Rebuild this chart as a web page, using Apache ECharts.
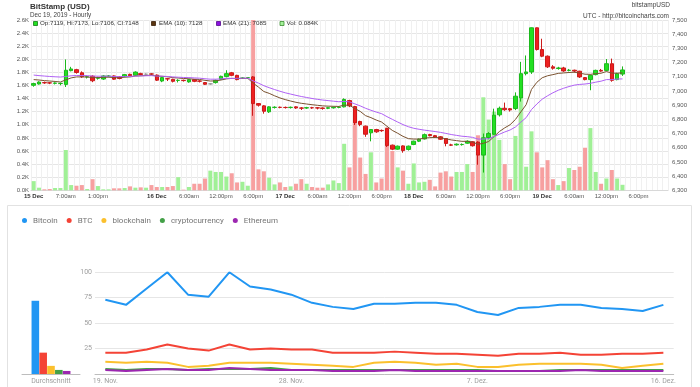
<!DOCTYPE html>
<html><head><meta charset="utf-8">
<script src="https://cdn.jsdelivr.net/npm/echarts@6/dist/echarts.min.js"></script>
<style>html,body{margin:0;padding:0;background:#fff}#c{width:700px;height:387px}</style>
</head><body><div id="c"></div>
<script>
// ---------- BitStamp hourly candles (15 Dec 01:00 .. 19 Dec 15:00) ----------
const opens  = [7040,7049,7059,7057,7054,7052,7046,7143,7150,7128,7098,7104,7090,7084,7104,7106,7099,7101,7117,7110,7122,7118,7120,7112,7070,7086,7082,7074,7075,7064,7080,7070,7059,7050,7059,7082,7101,7128,7110,7090,7092,7099,6911,6895,6853,6884,6885,6884,6883,6888,6880,6880,6882,6881,6880,6878,6881,6884,6888,6932,6890,6785,6752,6705,6728,6722,6735,6618,6590,6613,6588,6623,6646,6662,6693,6685,6677,6665,6620,6620,6622,6632,6642,6640,6548,6672,6695,6832,6878,6875,6876,6950,7122,7134,7445,7292,7245,7170,7158,7162,7145,7146,7139,7094,7080,7115,7145,7145,7192,7080,7119];
const closes = [7052,7063,7057,7056,7056,7054,7146,7155,7130,7100,7100,7072,7092,7106,7105,7083,7088,7115,7107,7133,7116,7118,7119,7076,7094,7085,7068,7075,7073,7080,7068,7069,7047,7050,7075,7103,7122,7110,7080,7091,7093,6911,6900,6857,6888,6885,6884,6883,6885,6880,6879,6882,6881,6880,6877,6882,6885,6886,6940,6895,6775,6764,6695,6728,6712,6720,6615,6590,6611,6580,6611,6646,6660,6692,6685,6675,6660,6630,6618,6625,6623,6646,6614,6548,6670,6700,6829,6878,6868,6866,6963,7122,7134,7445,7292,7245,7170,7160,7162,7141,7146,7140,7099,7080,7110,7145,7140,7192,7075,7122,7148];
const lows   = [7030,7045,7050,7048,7046,7040,7028,7138,7122,7092,7088,7062,7080,7078,7096,7078,7082,7096,7100,7105,7110,7110,7112,7070,7062,7070,7060,7060,7066,7058,7062,7060,7042,7044,7052,7078,7096,7104,7075,7085,7086,6825,6890,6840,6845,6876,6878,6876,6876,6874,6866,6874,6874,6870,6868,6872,6876,6878,6884,6886,6760,6752,6677,6645,6705,6712,6605,6583,6586,6565,6580,6618,6640,6658,6680,6670,6655,6610,6612,6615,6615,6628,6608,6480,6425,6660,6690,6820,6860,6855,6865,6925,7110,7120,7285,7238,7162,7150,7150,7135,7138,7130,7092,7075,7005,7110,7135,7140,7065,7075,7106];
const highs  = [7058,7068,7066,7062,7060,7058,7222,7170,7156,7138,7108,7110,7100,7112,7112,7110,7104,7120,7122,7138,7128,7124,7125,7116,7098,7092,7086,7082,7080,7084,7084,7076,7062,7056,7080,7108,7146,7134,7114,7096,7098,7105,6915,6900,6892,6892,6890,6890,6890,6892,6886,6888,6888,6886,6884,6886,6890,6892,6948,6938,6895,6790,6756,6732,6733,6728,6740,6622,6615,6617,6615,6650,6665,6700,6698,6690,6682,6668,6628,6630,6630,6652,6646,6645,6700,6710,6875,6890,6918,6880,6990,7205,7250,7447,7447,7368,7250,7182,7170,7170,7155,7150,7142,7098,7115,7150,7155,7225,7228,7128,7173];
const volumeK = [0.14,0.04,0.015,0.02,0.035,0.035,0.615,0.08,0.07,0.08,0.02,0.17,0.065,0.015,0.015,0.03,0.03,0.035,0.06,0.04,0.045,0.04,0.08,0.05,0.05,0.05,0.065,0.2,0.01,0.05,0.1,0.1,0.18,0.3,0.28,0.28,0.21,0.26,0.12,0.13,0.07,2.8,0.32,0.29,0.19,0.09,0.12,0.05,0.06,0.1,0.17,0.1,0.05,0.04,0.04,0.09,0.15,0.11,0.71,0.35,1.02,0.5,0.25,0.58,0.12,0.18,0.96,0.6,0.35,0.3,0.1,0.41,0.12,0.13,0.16,0.06,0.27,0.29,0.21,0.28,0.28,0.4,0.28,0.84,1.42,1.08,1.2,0.77,0.4,0.17,0.83,1.4,0.36,0.9,0.58,0.35,0.46,0.17,0.08,0.14,0.34,0.31,0.36,0.65,0.95,0.28,0.1,0.18,0.31,0.18,0.084];
const ema10 = [7080,7077,7073,7070,7067,7063,7078,7092,7099,7099,7099,7094,7094,7096,7097,7094,7093,7097,7099,7105,7107,7109,7111,7105,7103,7100,7094,7091,7088,7086,7083,7081,7075,7070,7071,7077,7085,7089,7087,7088,7089,7055,7027,6996,6983,6966,6951,6939,6929,6920,6913,6908,6903,6899,6895,6893,6892,6891,6900,6899,6876,6856,6826,6812,6795,6781,6751,6722,6702,6680,6664,6661,6661,6667,6671,6672,6670,6663,6655,6650,6645,6645,6640,6624,6631,6644,6678,6714,6740,6762,6799,6852,6903,7011,7061,7093,7107,7115,7124,7127,7130,7132,7126,7118,7117,7122,7125,7137,7126,7125,7128];
const ema21 = [7112,7108,7105,7102,7100,7098,7102,7107,7109,7109,7108,7105,7104,7104,7104,7102,7101,7102,7102,7105,7106,7107,7108,7105,7104,7102,7099,7097,7095,7094,7092,7090,7086,7083,7083,7085,7089,7088,7089,7090,7090,7071,7055,7037,7023,7010,6998,6987,6978,6969,6961,6954,6947,6941,6936,6932,6928,6924,6926,6923,6909,6895,6878,6864,6851,6840,6819,6800,6781,6763,6748,6737,6730,6724,6719,6714,6708,6701,6693,6687,6681,6678,6673,6661,6661,6664,6678,6695,6711,6725,6746,6780,6812,6869,6908,6942,6966,6987,7005,7019,7031,7041,7046,7049,7054,7062,7069,7080,7080,7084,7085];
const tickIdx  = [0,6,12,23,29,35,41,47,53,59,65,71,77,83,89,95,101,107,113];
const tickText = ['15 Dec','7:00am','1:00pm','16 Dec','6:00am','12:00pm','6:00pm','17 Dec','6:00am','12:00pm','6:00pm','18 Dec','6:00am','12:00pm','6:00pm','19 Dec','6:00am','12:00pm','6:00pm'];
const dayLabels = ['15 Dec','16 Dec','17 Dec','18 Dec','19 Dec'];
const slotCount = 119; // hourly slots 15 Dec 01:00 .. 19 Dec 23:00

// ---------- Google Trends ----------
const trendNames = ['Bitcoin','BTC','blockchain','cryptocurrency','Ethereum'];
const trendColors = ['#2196f3','#f44336','#fbc02d','#43a047','#9c27b0'];
const trendDates = ['19. Nov.','20. Nov.','21. Nov.','22. Nov.','23. Nov.','24. Nov.','25. Nov.','26. Nov.','27. Nov.','28. Nov.','29. Nov.','30. Nov.','1. Dez.','2. Dez.','3. Dez.','4. Dez.','5. Dez.','6. Dez.','7. Dez.','8. Dez.','9. Dez.','10. Dez.','11. Dez.','12. Dez.','13. Dez.','14. Dez.','15. Dez.','16. Dez.'];
const trendTickIdx = [0,9,18,27];
const tBitcoin    = [73,68,84,100,78,76,100,86,83,78,70,66,64,69,69,70,70,68,61,58,65,66,68,68,65,64,62,68];
const tBTC        = [21,21,24,29,25,23,29,24,25,24,24,21,21,21,22,21,20,20,19,18,20,20,21,19,19,20,20,21];
const tBlockchain = [12,11,12,11,7,8,11,11,11,10,9,8,7,11,12,11,9,10,7,7,9,10,10,10,9,6,8,10];
const tCrypto     = [5,4,5,5,4,5,5,5,6,4,4,4,4,4,4,4,4,4,4,3,3,3,4,4,4,4,4,4];
const tEthereum   = [4,3,4,5,4,4,6,5,4,4,4,3,3,3,4,3,3,3,3,3,3,3,3,4,3,3,3,3];
const trendAverages = [72,21,8,4,3];
const trendSeries = [tBitcoin,tBTC,tBlockchain,tCrypto,tEthereum];

// categories
const slots = [];
for (let i = 0; i < slotCount; i++) slots.push('h' + i);

const candleData = opens.map((o,i)=>[o, closes[i], lows[i], highs[i]]);
const UP='#22e022', DOWN='#ee2020', VUP='#a0f096', VDOWN='#f7a0a0';
const AF = '"Liberation Sans", Arial, sans-serif';
const RF = 'Roboto, sans-serif';

const chart = echarts.init(document.getElementById('c'), null, {renderer:'canvas'});

const series = [
  { type:'bar', xAxisIndex:0, yAxisIndex:0, data: volumeK, barWidth:4, animation:false, z:1,
    itemStyle:{ color: p => closes[p.dataIndex] >= opens[p.dataIndex] ? VUP : VDOWN } },
  { type:'candlestick', xAxisIndex:0, yAxisIndex:1, data:candleData, barWidth:4, animation:false, z:3,
    itemStyle:{ color:UP, color0:DOWN, borderColor:'#1cb81c', borderColor0:'#cc1a1a', borderWidth:1, borderColorDoji:'#999' } },
  { type:'line', xAxisIndex:0, yAxisIndex:1, data:ema10, symbol:'none', animation:false, z:4,
    lineStyle:{ color:'#7a5230', width:1 } },
  { type:'line', xAxisIndex:0, yAxisIndex:1, data:ema21, symbol:'none', animation:false, z:4,
    lineStyle:{ color:'#b062f5', width:1 } }
];
trendNames.forEach((n,k)=>{
  series.push({ name:n, type:'bar', xAxisIndex:1, yAxisIndex:2, data:[trendAverages[k]], barWidth:7.6, barGap:'3%',
    itemStyle:{ color:trendColors[k] }, animation:false });
});
trendNames.forEach((n,k)=>{
  series.push({ name:n, type:'line', xAxisIndex:2, yAxisIndex:3, data:trendSeries[k], symbol:'none',
    lineStyle:{ color:trendColors[k], width:2 }, itemStyle:{color:trendColors[k]}, animation:false });
});

chart.setOption({
  backgroundColor:'#fff',
  animation:false,
  grid:[
    { left:31, top:20, width:637, height:170.3 },
    { left:22, top:272.3, width:58, height:101.7 },
    { left:95, top:272.3, width:578.7, height:101.7 }
  ],
  legend:{ data:trendNames, left:17, top:211.5, icon:'circle', itemWidth:5, itemHeight:5, itemGap:9,
    textStyle:{ fontFamily:RF, fontSize:8, color:'#757575', padding:[0,0,0,1] } },
  xAxis:[
    { type:'category', gridIndex:0, data:slots, boundaryGap:true,
      axisLine:{ show:true, lineStyle:{color:'#d8d8d8'} }, axisTick:{show:false},
      splitLine:{ show:true, interval:0, lineStyle:{ color:'#f0f0f0', width:1 } },
      axisLabel:{ margin:3, interval:(i)=>tickIdx.indexOf(i)>=0,
        formatter:(v,i)=>{ const t=tickText[tickIdx.indexOf(i)]; return dayLabels.indexOf(t)>=0 ? '{b|'+t+'}' : '{n|'+t+'}'; },
        rich:{ b:{fontFamily:AF, fontSize:6, fontWeight:'bold', color:'#333'}, n:{fontFamily:AF, fontSize:6, color:'#555'} } } },
    { type:'category', gridIndex:1, data:['Durchschnitt'],
      axisLine:{ lineStyle:{color:'#bdbdbd'} }, axisTick:{show:false},
      axisLabel:{ fontFamily:RF, fontSize:7, color:'#9e9e9e', margin:4 } },
    { type:'category', gridIndex:2, data:trendDates, boundaryGap:true,
      axisLine:{ lineStyle:{color:'#bdbdbd'} }, axisTick:{show:false},
      axisLabel:{ fontFamily:RF, fontSize:7, color:'#9e9e9e', margin:4, interval:(i)=>trendTickIdx.indexOf(i)>=0 } }
  ],
  yAxis:[
    { type:'value', gridIndex:0, min:0, max:2.6, interval:0.2, position:'left',
      axisLine:{show:false}, axisTick:{show:false},
      splitLine:{ lineStyle:{ color:'#e6e6e6' } },
      axisLabel:{ fontFamily:AF, fontSize:6, color:'#555', margin:2, formatter:v=>v.toFixed(1)+'K' } },
    { type:'value', gridIndex:0, min:6300, max:7500, interval:100, position:'right',
      axisLine:{show:false}, axisTick:{show:false}, splitLine:{show:false},
      axisLabel:{ fontFamily:AF, fontSize:6, color:'#555', margin:4 } },
    { type:'value', gridIndex:1, min:0, max:100, show:false },
    { type:'value', gridIndex:2, min:0, max:100, interval:25,
      axisLine:{show:false}, axisTick:{show:false},
      splitLine:{ lineStyle:{ color:'#e6e6e6' } },
      axisLabel:{ fontFamily:RF, fontSize:7, color:'#9e9e9e', margin:3, formatter:v=> v===0 ? '' : String(v) } }
  ],
  series: series,
  graphic:[
    { type:'rect', shape:{x:7.5,y:205.5,width:684,height:190}, style:{fill:'none', stroke:'#e2e2e2', lineWidth:1}, z:-1 },
    { type:'text', left:30, top:2.5, style:{ text:'BitStamp (USD)', font:'bold 8px '+AF, fill:'#333' } },
    { type:'text', left:30, top:12.5, style:{ text:'Dec 19, 2019 - Hourly', font:'6.3px '+AF, fill:'#444' } },
    { type:'text', right:30, top:2, style:{ text:'bitstampUSD', font:'6.5px '+AF, fill:'#444', align:'right' } },
    { type:'text', right:31, top:12.5, style:{ text:'UTC - http://bitcoincharts.com', font:'6.5px '+AF, fill:'#444', align:'right' } },
    { type:'rect', shape:{x:33.5,y:21.5,width:4,height:4}, style:{fill:'#22e022', stroke:'#117711', lineWidth:0.8}, z:10 },
    { type:'text', x:40, y:20.5, style:{ text:'Op:7119, Hi:7173, Lo:7106, Cl:7148', font:'6.2px '+AF, fill:'#333' }, z:10 },
    { type:'rect', shape:{x:151.5,y:21.5,width:4,height:4}, style:{fill:'#5a3510', stroke:'#3a2008', lineWidth:0.8}, z:10 },
    { type:'text', x:159, y:20.5, style:{ text:'EMA (10): 7128', font:'6.2px '+AF, fill:'#333' }, z:10 },
    { type:'text', x:223, y:20.5, style:{ text:'EMA (21): 7085', font:'6.2px '+AF, fill:'#333' }, z:10 },
    { type:'rect', shape:{x:216.5,y:21.5,width:4,height:4}, style:{fill:'#8a10e0', stroke:'#55088a', lineWidth:0.8}, z:10 },
    { type:'rect', shape:{x:280,y:21.5,width:4,height:4}, style:{fill:'#a4f29a', stroke:'#3a8a30', lineWidth:0.8}, z:10 },
    { type:'text', x:286.5, y:20.5, style:{ text:'Vol: 0.084K', font:'6.2px '+AF, fill:'#333' }, z:10 }
  ]
});
</script></body></html>
